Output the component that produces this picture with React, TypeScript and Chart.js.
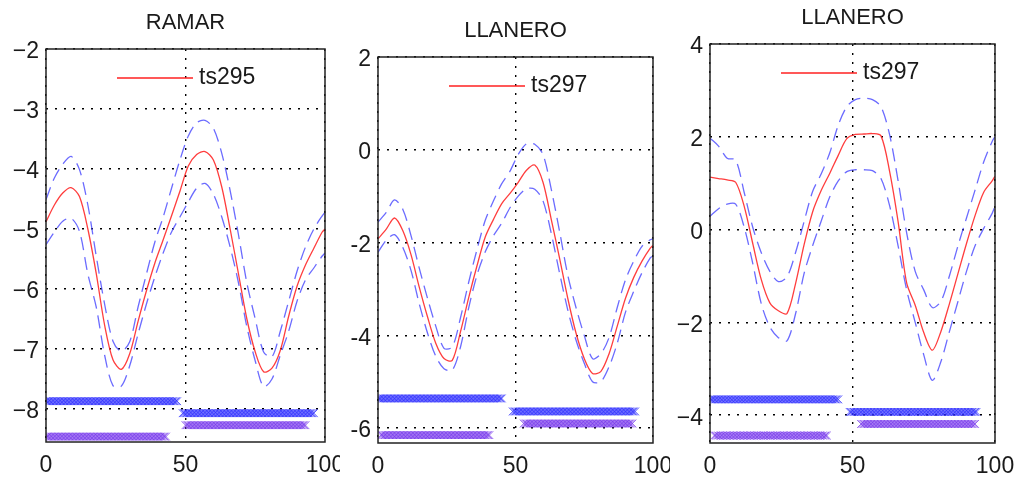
import React, { useEffect, useRef } from "react";
import { Chart, registerables } from "chart.js";

Chart.register(...registerables);

const FONT = '"Liberation Sans", Arial, Helvetica, sans-serif';

// Common sample positions along the horizontal axis
const X_SAMPLES = [0, 3, 6, 9, 12, 15, 18, 21, 24, 27, 30, 33, 36, 39, 42, 45, 48, 51, 54, 57, 60, 63, 66, 69, 72, 75, 78, 81, 84, 87, 90, 93, 96, 99, 100];

const X_TICKS = [0, 50, 100];
const X_TICK_LABELS = ["0", "50", "100"];

// ---- RAMAR / ts295 ----
const RAMAR_MEAN = [-4.88, -4.6, -4.4, -4.31, -4.46, -5.0, -5.74, -6.6, -7.18, -7.34, -7.08, -6.54, -6.03, -5.57, -5.18, -4.78, -4.37, -3.95, -3.76, -3.71, -3.85, -4.3, -5.0, -5.75, -6.5, -7.05, -7.38, -7.32, -7.02, -6.45, -5.95, -5.6, -5.32, -5.05, -5.0];
const RAMAR_UPPER = [-4.51, -4.15, -3.92, -3.79, -4.01, -4.6, -5.45, -6.25, -6.87, -7.04, -6.88, -6.3, -5.75, -5.22, -4.8, -4.32, -3.85, -3.45, -3.23, -3.19, -3.32, -3.74, -4.36, -5.1, -5.9, -6.5, -7.05, -7.13, -6.7, -6.2, -5.7, -5.3, -5.0, -4.78, -4.72];
const RAMAR_LOWER = [-5.26, -5.05, -4.87, -4.82, -5.04, -5.75, -6.3, -7.1, -7.61, -7.62, -7.28, -6.75, -6.25, -5.8, -5.4, -5.05, -4.8, -4.55, -4.32, -4.24, -4.42, -4.8, -5.3, -5.9, -6.63, -7.2, -7.63, -7.5, -7.1, -6.7, -6.2, -5.85, -5.65, -5.45, -5.4];
const RAMAR_BAND_START = [0, 0, 49, 50];
const RAMAR_BAND_END = [47, 43, 96, 93];
const RAMAR_BAND_LEVEL = [-7.87, -8.46, -8.07, -8.27];
const RAMAR_Y_TICKS = [-8, -7, -6, -5, -4, -3, -2];
const RAMAR_Y_LABELS = ["\u22128", "\u22127", "\u22126", "\u22125", "\u22124", "\u22123", "\u22122"];

// ---- LLANERO (first) / ts297 ----
const LLA_MEAN = [-1.92, -1.71, -1.47, -1.74, -2.26, -2.96, -3.6, -4.17, -4.5, -4.54, -3.92, -3.18, -2.5, -1.88, -1.5, -1.16, -0.94, -0.7, -0.44, -0.33, -0.7, -1.5, -2.33, -3.2, -3.95, -4.5, -4.82, -4.78, -4.4, -3.8, -3.2, -2.75, -2.4, -2.12, -2.06];
const LLA_UPPER = [-1.56, -1.35, -1.08, -1.28, -1.85, -2.55, -3.2, -3.8, -4.28, -4.25, -3.62, -2.85, -2.15, -1.52, -1.1, -0.73, -0.46, -0.1, 0.13, 0.12, -0.1, -0.85, -1.75, -2.7, -3.4, -4.0, -4.5, -4.4, -4.05, -3.4, -2.8, -2.4, -2.08, -1.94, -1.92];
const LLA_LOWER = [-2.21, -1.95, -1.83, -2.1, -2.6, -3.32, -3.95, -4.45, -4.72, -4.75, -4.25, -3.4, -2.7, -2.2, -1.85, -1.58, -1.25, -1.0, -0.84, -0.85, -1.1, -1.8, -2.65, -3.45, -4.1, -4.6, -5.0, -5.0, -4.68, -4.17, -3.5, -3.05, -2.65, -2.33, -2.28];
const LLA_BAND_START = [0, 1, 49, 53];
const LLA_BAND_END = [45, 40.5, 93.5, 92.5];
const LLA_BAND_LEVEL = [-5.36, -6.15, -5.64, -5.9];
const LLA_Y_TICKS = [-6, -4, -2, 0, 2];
const LLA_Y_LABELS = ["-6", "-4", "-2", "0", "2"];

// ---- LLANERO (second) / ts297 ----
const LLB_MEAN = [1.13, 1.1, 1.07, 1.02, 0.5, -0.3, -1.08, -1.58, -1.75, -1.81, -1.17, -0.33, 0.38, 0.84, 1.21, 1.6, 1.96, 2.05, 2.06, 2.07, 2.02, 1.26, 0.17, -1.15, -1.63, -2.22, -2.6, -2.2, -1.6, -0.95, -0.3, 0.3, 0.8, 1.05, 1.15];
const LLB_UPPER = [1.97, 1.8, 1.54, 1.5, 0.8, 0.05, -0.5, -0.9, -1.12, -1.02, -0.5, 0.17, 0.82, 1.2, 1.65, 2.25, 2.65, 2.8, 2.83, 2.8, 2.65, 2.05, 1.05, -0.07, -0.9, -1.3, -1.68, -1.55, -1.0, -0.35, 0.25, 0.85, 1.45, 1.9, 2.0];
const LLB_LOWER = [0.29, 0.45, 0.55, 0.55, 0.05, -0.73, -1.6, -2.1, -2.33, -2.4, -1.82, -0.95, -0.35, 0.18, 0.7, 1.05, 1.25, 1.29, 1.29, 1.27, 1.1, 0.52, -0.35, -1.3, -2.0, -2.7, -3.25, -2.85, -2.2, -1.55, -0.9, -0.35, 0.02, 0.35, 0.5];
const LLB_BAND_START = [0, 1.5, 49, 53];
const LLB_BAND_END = [45, 41, 93.5, 93];
const LLB_BAND_LEVEL = [-3.66, -4.44, -3.93, -4.19];
const LLB_Y_TICKS = [-4, -2, 0, 2, 4];
const LLB_Y_LABELS = ["\u22124", "\u22122", "0", "2", "4"];

type PanelSpec = {
  title: string;
  series: string;
  mean: number[];
  upper: number[];
  lower: number[];
  bandStart: number[];
  bandEnd: number[];
  bandLevel: number[];
  yTicks: number[];
  yLabels: string[];
  yMin: number;
  yMax: number;
  // layout
  left: number;
  width: number;
  areaLeft: number;
  areaRight: number;
  areaTop: number;
  areaBottom: number;
};

const PANELS: PanelSpec[] = [
  {
    title: "RAMAR", series: "ts295",
    mean: RAMAR_MEAN, upper: RAMAR_UPPER, lower: RAMAR_LOWER,
    bandStart: RAMAR_BAND_START, bandEnd: RAMAR_BAND_END, bandLevel: RAMAR_BAND_LEVEL,
    yTicks: RAMAR_Y_TICKS, yLabels: RAMAR_Y_LABELS, yMin: -8.55, yMax: -2,
    left: 0, width: 340, areaLeft: 46, areaRight: 325, areaTop: 49, areaBottom: 442,
  },
  {
    title: "LLANERO", series: "ts297",
    mean: LLA_MEAN, upper: LLA_UPPER, lower: LLA_LOWER,
    bandStart: LLA_BAND_START, bandEnd: LLA_BAND_END, bandLevel: LLA_BAND_LEVEL,
    yTicks: LLA_Y_TICKS, yLabels: LLA_Y_LABELS, yMin: -6.32, yMax: 2,
    left: 340, width: 330, areaLeft: 38, areaRight: 313, areaTop: 57, areaBottom: 443,
  },
  {
    title: "LLANERO", series: "ts297",
    mean: LLB_MEAN, upper: LLB_UPPER, lower: LLB_LOWER,
    bandStart: LLB_BAND_START, bandEnd: LLB_BAND_END, bandLevel: LLB_BAND_LEVEL,
    yTicks: LLB_Y_TICKS, yLabels: LLB_Y_LABELS, yMin: -4.6, yMax: 4,
    left: 670, width: 347, areaLeft: 40, areaRight: 325, areaTop: 44, areaBottom: 443,
  },
];

const HEIGHT = 477;
const BAND_COLORS = ["rgba(45,45,255,0.8)", "rgba(115,50,235,0.75)", "rgba(45,45,255,0.8)", "rgba(115,50,235,0.75)"];

// cross markers sampled densely along a band
function bandPoints(start: number, end: number, level: number) {
  const pts: { x: number; y: number }[] = [];
  for (let x = start; x <= end + 1e-9; x += 0.5) pts.push({ x, y: level });
  return pts;
}

function pair(xs: number[], ys: number[]) {
  return xs.map((x, i) => ({ x, y: ys[i] }));
}

const framePlugin = {
  id: "frame",
  afterDraw(chart: any, _args: any, opts: any) {
    const { ctx, chartArea } = chart;
    const { left, right, top, bottom } = chartArea;
    ctx.save();
    // axes box
    ctx.strokeStyle = "#222";
    ctx.lineWidth = 1.5;
    ctx.setLineDash([]);
    ctx.strokeRect(left, top, right - left, bottom - top);
    // title
    ctx.fillStyle = "#1a1a1a";
    ctx.font = `22px ${FONT}`;
    ctx.textAlign = "center";
    ctx.textBaseline = "middle";
    ctx.fillText(opts.title, (left + right) / 2, top - 26);
    // legend
    const ly = top + 29;
    ctx.strokeStyle = "#ff2020";
    ctx.lineWidth = 1.5;
    ctx.beginPath();
    ctx.moveTo(left + 71, ly);
    ctx.lineTo(left + 147, ly);
    ctx.stroke();
    ctx.font = `23px ${FONT}`;
    ctx.textAlign = "left";
    ctx.fillText(opts.series, left + 153, ly);
    ctx.restore();
  },
};

function Panel({ spec }: { spec: PanelSpec }) {
  const ref = useRef<HTMLCanvasElement | null>(null);

  useEffect(() => {
    if (!ref.current) return;
    const bandSets = spec.bandLevel.map((lvl, i) => ({
      type: "scatter" as const,
      data: bandPoints(spec.bandStart[i], spec.bandEnd[i], lvl),
      pointStyle: "crossRot" as const,
      pointRadius: 5.5,
      pointBorderWidth: 1,
      pointBorderColor: BAND_COLORS[i],
      pointBackgroundColor: BAND_COLORS[i],
      showLine: false,
    }));
    const dashed = (ys: number[]) => ({
      type: "line" as const,
      data: pair(X_SAMPLES, ys),
      borderColor: "rgba(70,70,255,0.8)",
      borderWidth: 1.3,
      borderDash: [13, 7],
      pointRadius: 0,
      tension: 0.3,
      fill: false,
    });
    const chart = new Chart(ref.current, {
      type: "line",
      data: {
        datasets: [
          ...bandSets,
          dashed(spec.upper),
          dashed(spec.lower),
          {
            type: "line" as const,
            data: pair(X_SAMPLES, spec.mean),
            borderColor: "rgba(255,40,40,0.9)",
            borderWidth: 1.3,
            pointRadius: 0,
            tension: 0.3,
            fill: false,
          },
        ] as any,
      },
      options: {
        animation: false,
        responsive: false,
        events: [],
        layout: {
          autoPadding: false,
          padding: {
            left: 0,
            top: spec.areaTop,
            right: spec.width - spec.areaRight,
            bottom: 0,
          },
        },
        plugins: {
          legend: { display: false },
          title: { display: false },
          tooltip: { enabled: false },
          frame: { title: spec.title, series: spec.series },
        } as any,
        scales: {
          x: {
            type: "linear",
            min: 0,
            max: 100,
            afterBuildTicks: (scale: any) => {
              scale.ticks = X_TICKS.map((v) => ({ value: v }));
            },
            afterFit: (scale: any) => {
              scale.height = HEIGHT - spec.areaBottom;
              scale.paddingLeft = 0;
              scale.paddingRight = 0;
            },
            grid: { color: "#000", lineWidth: 1.4, drawTicks: false },
            border: { display: false, dash: [2, 7] },
            ticks: {
              padding: 10,
              color: "#1a1a1a",
              font: { family: FONT, size: 23 },
              maxRotation: 0,
              autoSkip: false,
              callback: (v: any) => {
                const i = X_TICKS.indexOf(Number(v));
                return i >= 0 ? X_TICK_LABELS[i] : "";
              },
            },
          },
          y: {
            type: "linear",
            min: spec.yMin,
            max: spec.yMax,
            afterBuildTicks: (scale: any) => {
              scale.ticks = spec.yTicks.map((v) => ({ value: v }));
            },
            afterFit: (scale: any) => {
              scale.width = spec.areaLeft;
              scale.paddingTop = 0;
              scale.paddingBottom = 0;
            },
            grid: { color: "#000", lineWidth: 1.4, drawTicks: false },
            border: { display: false, dash: [2, 7] },
            ticks: {
              padding: 7,
              labelOffset: 3,
              color: "#1a1a1a",
              font: { family: FONT, size: 23 },
              autoSkip: false,
              callback: (v: any) => {
                const i = spec.yTicks.indexOf(Number(v));
                return i >= 0 ? spec.yLabels[i] : "";
              },
            },
          },
        },
      },
      plugins: [framePlugin],
    });
    return () => chart.destroy();
  }, [spec]);

  return (
    <div style={{ position: "absolute", left: spec.left, top: 0, width: spec.width, height: HEIGHT, overflow: "hidden" }}>
      <canvas ref={ref} width={spec.width} height={HEIGHT} style={{ display: "block", width: spec.width, height: HEIGHT }} />
    </div>
  );
}

export default function App() {
  return (
    <div style={{ position: "absolute", left: 0, top: 0, width: 1017, height: HEIGHT, background: "#fff", overflow: "hidden" }}>
      {PANELS.map((p, i) => (
        <Panel key={i} spec={p} />
      ))}
    </div>
  );
}
